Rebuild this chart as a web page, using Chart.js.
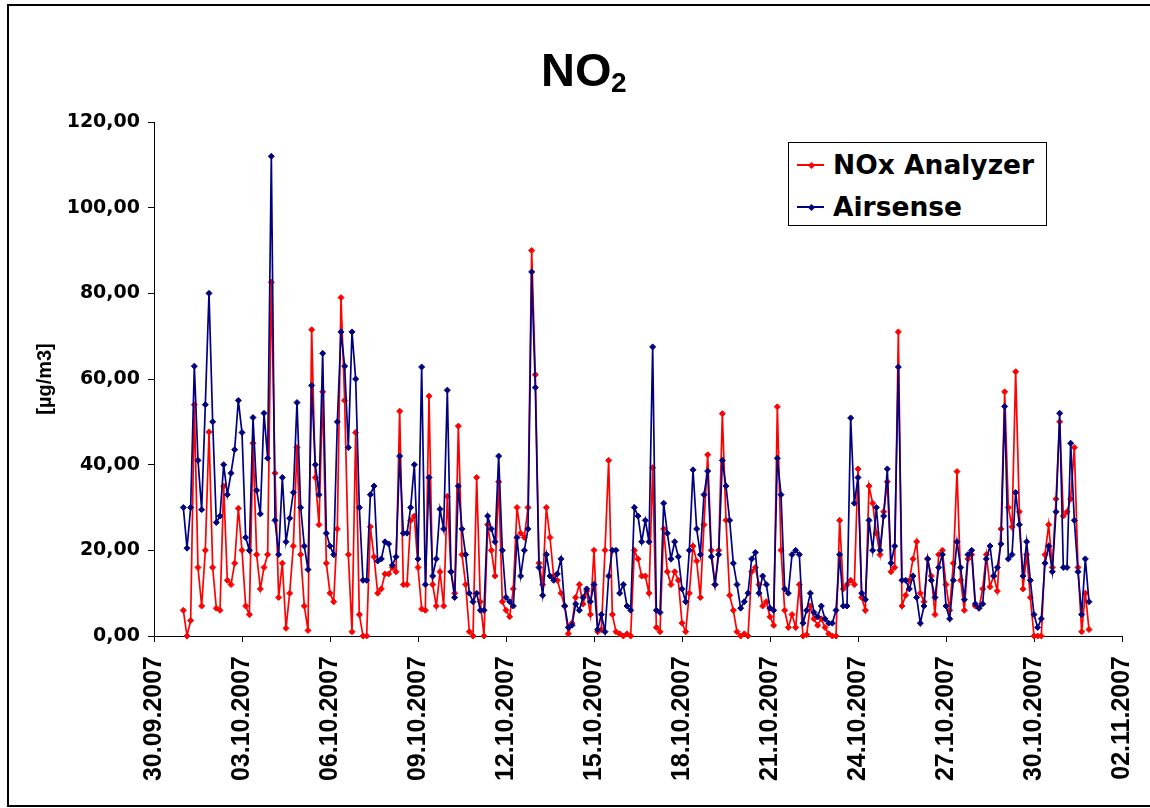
<!DOCTYPE html>
<html>
<head>
<meta charset="utf-8">
<title>NO2</title>
<script src="https://cdn.jsdelivr.net/npm/chart.js@4.4.1/dist/chart.umd.min.js"></script>
<style>
  body { margin: 0; background: #fff; }
  #wrap { position: relative; width: 1150px; height: 808px; overflow: hidden; background: #fff; }
  #frame { position: absolute; left: 7px; top: 4px; width: 1170px; height: 803px; border: 2px solid #000; box-sizing: border-box; }
  #chart { position: absolute; left: 0; top: 0; }
  .ttl { position: absolute; font-family: 'Liberation Sans'; font-weight: bold; line-height: 1; white-space: nowrap; color: #000; }
  #legendBox { position: absolute; left: 788px; top: 142px; width: 259px; height: 84px; border: 1px solid #000; box-sizing: border-box; background: #fff; }
  .lgLine { position: absolute; width: 27px; height: 2px; }
  .lgMark { position: absolute; width: 5px; height: 5px; transform: rotate(45deg); }
  .lgText { position: absolute; font-family: 'DejaVu Sans'; font-weight: bold; font-size: 26.5px; line-height: 26.5px; white-space: nowrap; color: #000; }
</style>
</head>
<body>
<div id="wrap">
  <div id="frame"></div>
  <canvas id="chart" width="1150" height="808"></canvas>
  <div class="ttl" style="left:541px; top:46px; font-size:47px;">NO</div>
  <div class="ttl" style="left:611px; top:69px; font-size:28px;">2</div>
  <div id="legendBox"></div>
</div>
<script>
// 3-hourly values, 01.10.2007 00:00 .. 31.10.2007 21:00
let seriesNames = ['NOx Analyzer', 'Airsense'];

let noxAnalyzer = [
    6, 0, 3.6, 54, 16, 7, 20, 47.6,
    16, 6.5, 6, 35, 13, 12, 17, 29.8,
    20, 7, 5, 45, 19, 11, 16, 19,
    82.6, 38, 9, 17, 1.8, 10, 21, 44,
    19, 7, 1.3, 71.5, 37, 26, 57, 17,
    10, 8, 25, 79, 55, 19, 1, 47.5,
    5, 0, 0, 25.5, 18.5, 10, 11, 14.5,
    14.5, 16, 15, 52.5, 12, 12, 27, 28,
    16, 6.3, 6, 56, 12, 7, 15, 7,
    32.6, 15, 10, 49, 19, 12, 1, 0,
    37, 8, 0, 26, 20, 14, 36, 8,
    6, 4.5, 11, 30, 24, 23, 30, 90,
    61, 17, 12, 30, 23, 14, 13, 10,
    7, 0.5, 3, 9, 12, 7.5, 10.5, 5,
    20, 1, 1.5, 20, 41, 5, 1, 0.5,
    0, 0.5, 0, 20, 18, 14, 14, 10,
    39.3, 2, 1, 25, 15, 12, 15, 13,
    3, 1, 10, 21, 17.5, 9, 26, 42.3,
    20, 12, 20, 51.9, 27, 9.5, 6, 1,
    0, 0.5, 0, 15, 16, 12, 7, 8,
    4.5, 2.5, 53.5, 20, 6, 2, 5, 2,
    12, 0, 0.3, 7, 4, 2.5, 4, 2,
    0.5, 0, 0, 27, 11, 12, 13, 12,
    39, 9, 6, 35, 31, 24, 19, 29,
    36, 15, 16, 71, 7, 9.5, 13, 18,
    22, 10, 8, 18, 14, 5, 19, 20,
    12, 6, 17, 38.4, 13, 6, 18, 19,
    7, 6.5, 11, 19, 11.5, 14, 10.5, 25,
    57, 30, 25.5, 61.7, 29, 11, 19, 9,
    0, 0, 0, 19, 26, 16, 32, 50,
    28, 29, 32, 44, 16, 1, 10, 1.5
];

let airsense = [
    30, 20.5, 30, 63, 41, 29.5, 54, 80,
    50, 26.5, 28, 40, 33, 38, 43.5, 55,
    47.5, 23, 20, 51, 34, 28.5, 52, 41.5,
    112, 27, 19, 37, 22, 27.5, 33.5, 54.5,
    30, 21, 15.5, 58.5, 40, 33, 66, 24,
    21, 19, 50, 71, 63, 44, 71, 60,
    30, 13, 13, 33, 35, 17.5, 18, 22,
    21.5, 16.5, 18.5, 42, 24, 24, 30, 40,
    18, 62.8, 12, 37, 14, 18, 29.6, 25,
    57.4, 15, 9, 35, 25, 19, 10, 8,
    10, 6, 6, 28, 25, 22, 42, 20,
    9, 8, 7, 23, 14, 20, 25, 85,
    58, 16, 9.5, 19, 14, 13, 14.5, 18,
    7, 2, 2.5, 7.5, 6, 9, 11, 8,
    12, 1.5, 5, 1, 14, 20, 20, 10,
    12, 7, 6, 30, 28, 22, 27, 22,
    67.5, 6, 5.5, 31, 24, 18, 22, 18.5,
    11, 8, 20, 38.8, 25, 19, 33, 38.5,
    18.5, 12, 19, 41, 35, 27, 17, 12,
    6.5, 8, 10, 18, 19.5, 10, 14, 12,
    6.5, 6, 41.5, 33, 11, 10, 19, 20,
    19, 3, 6, 10, 5.5, 4.5, 7, 4,
    3, 3, 6, 19, 7, 7, 50.9, 31,
    37, 10, 8.5, 27, 20, 30, 20, 28,
    39, 17, 21, 62.8, 13, 13, 11, 14,
    9, 3, 7, 18, 13, 9, 16, 19,
    7, 4, 13, 22, 16, 8.5, 19, 20,
    7.5, 6.5, 7.5, 18, 21, 14, 16, 21.5,
    53.6, 18, 19, 33.5, 26, 14, 22, 13,
    5, 2, 4, 17, 21, 15, 29, 52,
    16, 16, 45, 27, 15, 5, 18, 8
];

let xTickLabels = ['30.09.2007', '03.10.2007', '06.10.2007', '09.10.2007', '12.10.2007', '15.10.2007',
    '18.10.2007', '21.10.2007', '24.10.2007', '27.10.2007', '30.10.2007', '02.11.2007'];
let yTickLabels = ['0,00', '20,00', '40,00', '60,00', '80,00', '100,00', '120,00'];

// days after 30.09.2007 00:00
let firstDay = 1;
let stepDays = 3 / 24;

let colors = ['#ff0000', '#000080'];

let toPoints = (vals) => vals.map((v, i) => ({ x: firstDay + i * stepDays, y: v }));

let context = document.querySelector('#chart').getContext('2d');

let config = {
    type: 'line',
    data: {
        datasets: [{
            label: seriesNames[0],
            data: toPoints(noxAnalyzer),
            borderColor: colors[0],
            backgroundColor: colors[0],
            order: 2
        }, {
            label: seriesNames[1],
            data: toPoints(airsense),
            borderColor: colors[1],
            backgroundColor: colors[1],
            order: 1
        }]
    },
    options: {
        responsive: false,
        animation: false,
        devicePixelRatio: 1,
        layout: {
            padding: { left: 0, right: 28, top: 122, bottom: 0 }
        },
        elements: {
            line: { borderWidth: 1.7, tension: 0 },
            point: { pointStyle: 'rectRot', radius: 3, borderWidth: 1 }
        },
        datasets: {
            line: { clip: false }
        },
        plugins: {
            legend: { display: false },
            tooltip: { enabled: false }
        },
        scales: {
            x: {
                type: 'linear',
                min: 0,
                max: 33,
                afterFit: (scale) => {
                    scale.height = 172;
                    scale.paddingLeft = 0;
                    scale.paddingRight = 0;
                },
                ticks: {
                    stepSize: 3,
                    autoSkip: false,
                    minRotation: 90,
                    maxRotation: 90,
                    padding: 14,
                    color: '#000',
                    font: { family: 'Liberation Sans', weight: 'bold', size: 25 },
                    callback: (v) => xTickLabels[Math.round(v / 3)]
                },
                grid: { drawOnChartArea: false, drawTicks: true, tickLength: 6, color: '#000' },
                border: { color: '#000', width: 1 }
            },
            y: {
                min: 0,
                max: 120,
                afterFit: (scale) => { scale.width = 154; },
                ticks: {
                    stepSize: 20,
                    padding: 8,
                    color: '#000',
                    font: { family: 'DejaVu Sans', weight: 'bold', size: 19 },
                    callback: (v) => yTickLabels[Math.round(v / 20)]
                },
                grid: { drawOnChartArea: false, drawTicks: true, tickLength: 6, color: '#000' },
                border: { color: '#000', width: 1 },
                title: {
                    display: true,
                    text: '[µg/m3]',
                    color: '#000',
                    font: { family: 'Liberation Sans', weight: 'bold', size: 20 },
                    padding: { top: 33, bottom: 0 }
                }
            }
        }
    }
};

let chart = new Chart(context, config);

// legend box drawn as html, top right inside the plot
let rows = [165, 207];
let wrap = document.getElementById('wrap');
chart.data.datasets.forEach((ds, i) => {
    let line = document.createElement('div');
    line.className = 'lgLine';
    line.style.left = '797px';
    line.style.top = (rows[i] - 1) + 'px';
    line.style.background = ds.borderColor;
    wrap.appendChild(line);

    let mark = document.createElement('div');
    mark.className = 'lgMark';
    mark.style.left = '808.5px';
    mark.style.top = (rows[i] - 2.5) + 'px';
    mark.style.background = ds.borderColor;
    wrap.appendChild(mark);

    let txt = document.createElement('div');
    txt.className = 'lgText';
    txt.style.left = '833px';
    txt.style.top = (rows[i] - 12.9) + 'px';
    txt.textContent = ds.label;
    wrap.appendChild(txt);
});
</script>
</body>
</html>
